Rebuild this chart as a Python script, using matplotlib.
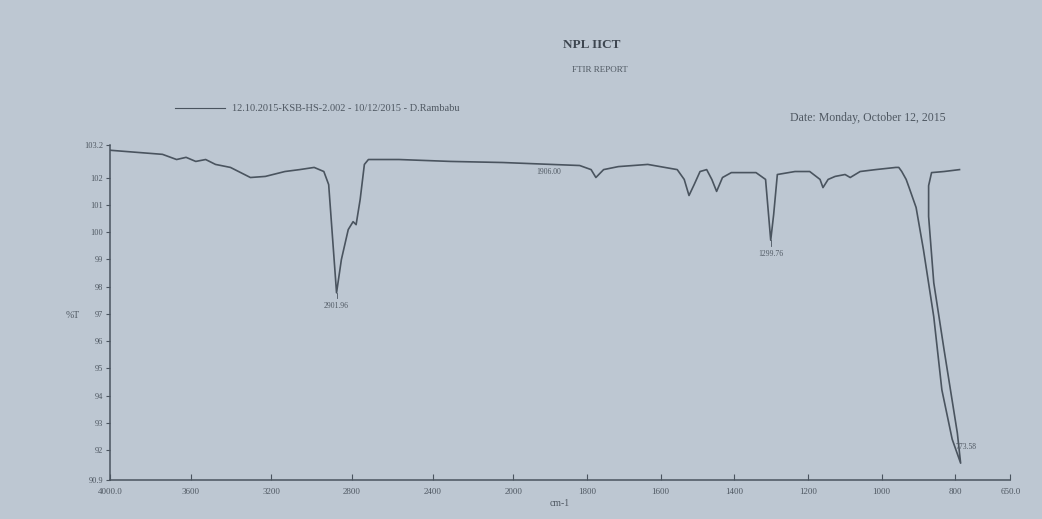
import numpy as np
import matplotlib
matplotlib.use("Agg")
import matplotlib.pyplot as plt

# ---- data (wavenumber cm-1, %T) ----
wavenumber = [4000, 3740, 3670, 3623, 3575, 3526, 3477, 3403, 3304, 3230, 3133,
              3060, 2988, 2940, 2916, 2877, 2853, 2819, 2795, 2780, 2760, 2739,
              2719, 2567, 2312, 2052, 1897, 1820, 1789, 1776, 1755, 1715, 1635,
              1555, 1536, 1523, 1509, 1493, 1475, 1461, 1448, 1432, 1408, 1341,
              1315, 1301, 1293, 1283, 1235, 1195, 1167, 1159, 1145, 1126, 1099,
              1085, 1058, 1016, 961, 953, 945, 933, 925, 906, 886, 858, 836, 808,
              785, 794, 830, 858, 872, 872, 864, 830, 788]
transmittance = [103.0, 102.85, 102.66, 102.74, 102.59, 102.66, 102.48, 102.37,
                 102.0, 102.04, 102.22, 102.29, 102.37, 102.22, 101.74, 97.77,
                 98.99, 100.09, 100.38, 100.27, 101.19, 102.48, 102.66, 102.66,
                 102.59, 102.55, 102.48, 102.44, 102.29, 102.0, 102.29, 102.4,
                 102.48, 102.29, 101.93, 101.34, 101.74, 102.22, 102.29, 101.93,
                 101.49, 102.0, 102.18, 102.18, 101.93, 99.7, 100.64, 102.11,
                 102.22, 102.22, 101.93, 101.63, 101.93, 102.04, 102.11, 102.0,
                 102.22, 102.29, 102.37, 102.37, 102.22, 101.93, 101.63, 100.9,
                 99.35, 96.89, 94.21, 92.4, 91.52, 92.63, 95.68, 98.14, 100.57,
                 101.7, 102.18, 102.22, 102.29]

x_ticks = [4000, 3600, 3200, 2800, 2400, 2000, 1800, 1600, 1400, 1200, 1000, 800, 650]
x_tick_labels = ["4000.0", "3600", "3200", "2800", "2400", "2000", "1800", "1600",
                 "1400", "1200", "1000", "800", "650.0"]
y_ticks = [90.9, 92, 93, 94, 95, 96, 97, 98, 99, 100, 101, 102, 103.2]
y_tick_labels = ["90.9", "92", "93", "94", "95", "96", "97", "98", "99", "100",
                 "101", "102", "103.2"]

peak_pos = [2877, 1903, 1301, 770]
peak_tip = [97.77, 102.3, 99.7, 91.52]
peak_text = ["2901.96", "1906.00", "1299.76", "773.58"]
peak_label_y = [97.45, 102.35, 99.35, 92.25]
peak_leader = [True, False, True, False]

# ---- styling ----
bg = "#bdc7d2"
ink = "#4a545f"
txt = "#4f5862"
serif = ["Liberation Serif", "DejaVu Serif"]

fig = plt.figure(figsize=(10.42, 5.19), dpi=100, facecolor=bg)
ax = fig.add_axes([0.1056, 0.075, 0.864, 0.646])
ax.set_facecolor("none")

K = 0.548


def fwd(x):
    x = np.asarray(x, dtype=float)
    return np.where(x <= 2000, x, 2000 + (x - 2000) * K)


def inv(u):
    u = np.asarray(u, dtype=float)
    return np.where(u <= 2000, u, 2000 + (u - 2000) / K)


ax.set_xscale("function", functions=(fwd, inv))
ax.plot(wavenumber, transmittance, color=ink, lw=1.2, solid_joinstyle="round")
ax.set_xlim(4000, 650)
ax.set_ylim(90.9, 103.2)

ax.set_xticks(x_ticks)
ax.set_xticklabels(x_tick_labels, fontsize=6.5, color=txt, family=serif)
ax.set_yticks(y_ticks)
ax.set_yticklabels(y_tick_labels, fontsize=6, color=txt, family=serif)
ax.xaxis.set_minor_locator(matplotlib.ticker.NullLocator())
ax.yaxis.set_minor_locator(matplotlib.ticker.NullLocator())
ax.tick_params(axis="x", direction="in", length=4, color=ink, pad=6)
ax.tick_params(axis="y", direction="out", length=3, color=ink, pad=2)
for s in ["top", "right"]:
    ax.spines[s].set_visible(False)
for s in ["left", "bottom"]:
    ax.spines[s].set_color(ink)
    ax.spines[s].set_linewidth(1.1)

for xp, tip, t, ly, lead in zip(peak_pos, peak_tip, peak_text, peak_label_y, peak_leader):
    if lead:
        ax.plot([xp, xp], [tip, ly + 0.12], color=ink, lw=0.6)
    ax.text(xp, ly, t, fontsize=5.5, color=txt, family=serif, ha="center", va="top")

ax.set_xlabel("cm-1", fontsize=7, color=txt, family=serif, labelpad=2)
fig.text(0.07, 0.393, "%T", fontsize=7, color=txt, family=serif, ha="center", va="center")

fig.text(0.568, 0.913, "NPL IICT", fontsize=9.5, fontweight="bold", color="#3e4650",
         family=serif, ha="center", va="center")
fig.text(0.576, 0.865, "FTIR REPORT", fontsize=6.5, color=txt, family=serif,
         ha="center", va="center")
fig.lines.append(matplotlib.lines.Line2D([0.168, 0.216], [0.792, 0.792],
                                         transform=fig.transFigure, color=ink, lw=0.8))
fig.text(0.223, 0.79, "12.10.2015-KSB-HS-2.002 - 10/12/2015 - D.Rambabu", fontsize=7.5,
         color=txt, family=serif, ha="left", va="center")
fig.text(0.758, 0.773, "Date: Monday, October 12, 2015", fontsize=8.5, color=txt,
         family=serif, ha="left", va="center")

fig.savefig("out.png", dpi=100, facecolor=bg)
